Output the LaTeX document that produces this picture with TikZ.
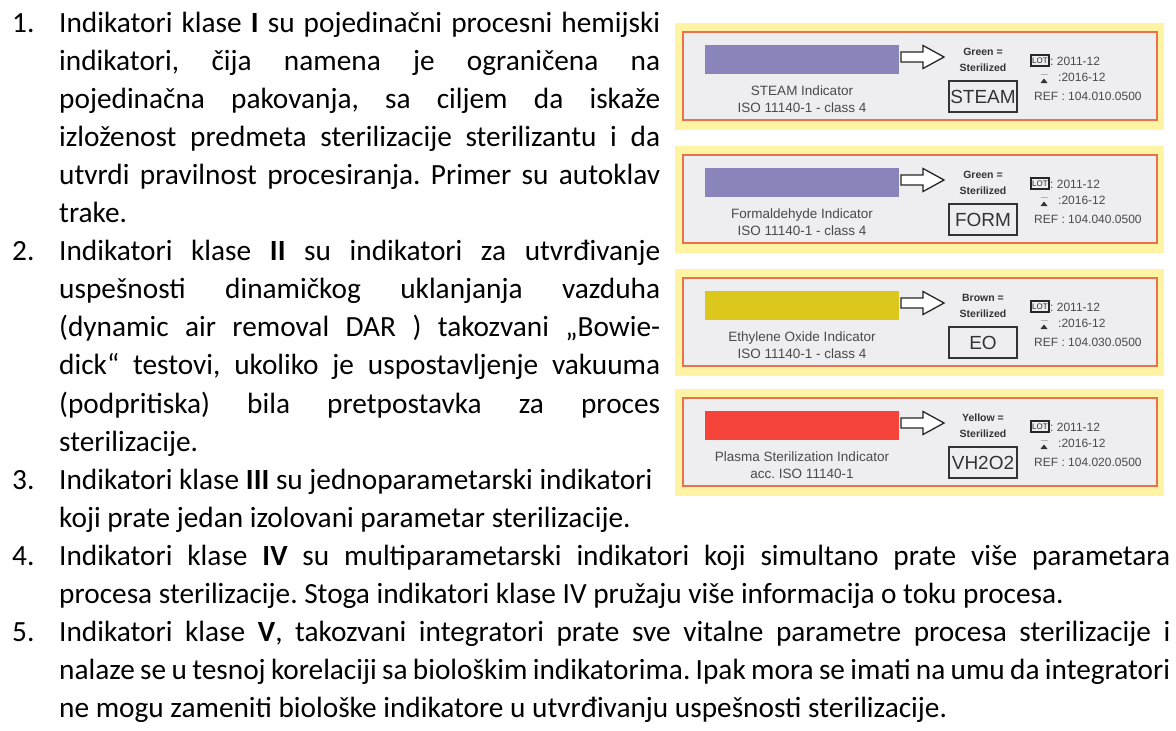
\documentclass[tikz,border=0pt]{standalone}
\usepackage{fontspec}
\setmainfont{Carlito}
\newfontfamily\arialf{Liberation Sans}
\frenchspacing
\definecolor{panelred}{HTML}{E9714C}
\definecolor{panelyel}{HTML}{FFF4A3}
\definecolor{panelgray}{HTML}{EEEEF1}
\definecolor{barpurple}{HTML}{8985BB}
\definecolor{baryellow}{HTML}{DCC81C}
\definecolor{barred}{HTML}{F6443A}
\definecolor{labgray}{HTML}{4A4A4A}
\newcommand\jlineA[1]{\makebox[601pt][s]{#1}}
\newcommand\jlineB[1]{\makebox[1111pt][s]{#1}}
\begin{document}
\begin{tikzpicture}[x=1pt,y=-1pt,
  num/.style={anchor=base west,inner sep=0pt,font=\frenchspacing\fontsize{29.3}{38}\selectfont},
  txt/.style={anchor=base west,inner sep=0pt,font=\frenchspacing\fontsize{29.3}{38}\selectfont},
  lab/.style={inner sep=0pt,text=labgray,font=\arialf\fontsize{13.5}{14}\selectfont},
  stz/.style={inner sep=0pt,text=labgray!70!black,font=\arialf\bfseries\fontsize{10.5}{11}\selectfont},
  sml/.style={inner sep=0pt,anchor=west,text=labgray,font=\arialf\fontsize{12}{13}\selectfont},
  bigbox/.style={draw=black!80,line width=1.3pt,minimum width=68pt,minimum height=31pt,inner sep=0pt,text=black!80,font=\arialf\fontsize{19}{20}\selectfont},
  lotbox/.style={draw=black!85,line width=1.1pt,minimum width=18pt,minimum height=11pt,inner sep=0pt,text=black!85,font=\arialf\fontsize{8}{8}\selectfont}
]
\useasboundingbox (0,0) rectangle (1176,731);
\fill[white] (0,0) rectangle (1176,731);

% ---------- left text ----------
\node[num] (n1) at (12,32) {1.};
\node[txt] (t1a) at (59,32) {\jlineA{Indikatori klase \textbf{I} su pojedinačni procesni hemijski}};
\node[txt] (t1b) at (59,70.1) {\jlineA{indikatori, čija namena je ograničena na}};
\node[txt] (t1c) at (59,108.2) {\jlineA{pojedinačna pakovanja, sa ciljem da iskaže}};
\node[txt] (t1d) at (59,146.3) {\jlineA{izloženost predmeta sterilizacije sterilizantu i da}};
\node[txt] (t1e) at (59,184.4) {\jlineA{utvrdi pravilnost procesiranja. Primer su autoklav}};
\node[txt] (t1f) at (59,222.5) {trake.};

\node[num] (n2) at (12,260.6) {2.};
\node[txt] (t2a) at (59,260.6) {\jlineA{Indikatori klase \textbf{II} su indikatori za utvrđivanje}};
\node[txt] (t2b) at (59,298.7) {\jlineA{uspešnosti dinamičkog uklanjanja vazduha}};
\node[txt] (t2c) at (59,336.8) {\jlineA{(dynamic air removal DAR ) takozvani „Bowie-}};
\node[txt] (t2d) at (59,374.9) {\jlineA{dick“ testovi, ukoliko je uspostavljenje vakuuma}};
\node[txt] (t2e) at (59,413.0) {\jlineA{(podpritiska) bila pretpostavka za proces}};
\node[txt] (t2f) at (59,451.1) {sterilizacije.};

\node[num] (n3) at (12,489.2) {3.};
\node[txt] (t3a) at (59,489.2) {Indikatori klase \textbf{III} su jednoparametarski indikatori};
\node[txt] (t3b) at (59,527.3) {koji prate jedan izolovani parametar sterilizacije.};

\node[num] (n4) at (12,565.4) {4.};
\node[txt] (t4a) at (59,565.4) {\jlineB{Indikatori klase \textbf{IV} su multiparametarski indikatori koji simultano prate više parametara}};
\node[txt] (t4b) at (59,603.5) {procesa sterilizacije. Stoga indikatori klase IV pružaju više informacija o toku procesa.};

\node[num] (n5) at (12,641.6) {5.};
\node[txt] (t5a) at (59,641.6) {\jlineB{Indikatori klase \textbf{V}, takozvani integratori prate sve vitalne parametre procesa sterilizacije i}};
\node[txt] (t5b) at (59,679.7) {\jlineB{nalaze se u tesnoj korelaciji sa biološkim indikatorima. Ipak mora se imati na umu da integratori}};
\node[txt] (t5c) at (59,717.8) {ne mogu zameniti biološke indikatore u utvrđivanju uspešnosti sterilizacije.};

% ---------- indicator panels ----------
\foreach \i/\ty/\bc/\clr/\bx/\labA/\labB/\rf in {
  1/32/barpurple/Green/STEAM/STEAM Indicator/ISO 11140-1 - class 4/010,
  2/155/barpurple/Green/FORM/Formaldehyde Indicator/ISO 11140-1 - class 4/040,
  3/278/baryellow/Brown/EO/Ethylene Oxide Indicator/ISO 11140-1 - class 4/030,
  4/398/barred/Yellow/VH2O2/Plasma Sterilization Indicator/acc. ISO 11140-1/020}{
  \fill[panelyel] (675,{\ty-9}) rectangle (1164,{\ty+98});
  \draw[panelred,line width=2pt,fill=panelgray] (683,\ty) rectangle (1157,{\ty+88});
  \fill[\bc] (705,{\ty+13}) rectangle (899,{\ty+42});
  \node[lab,anchor=base] (la\i) at (802,{\ty+63}) {\labA};
  \node[lab,anchor=base] (lb\i) at (802,{\ty+80}) {\labB};
  \draw[line width=1.3pt,black!85,fill=white] (901,{\ty+20}) -- (923,{\ty+20}) -- (923,{\ty+13.5})
     -- (944,{\ty+25}) -- (923,{\ty+36.5}) -- (923,{\ty+30}) -- (901,{\ty+30}) -- cycle;
  \node[stz] (c\i) at (983,{\ty+20}) {\clr\ =};
  \node[stz] (s\i) at (983,{\ty+36}) {Sterilized};
  \node[bigbox] (bx\i) at (983,{\ty+64.5}) {\bx};
  \node[lotbox] (lot\i) at (1040,{\ty+28.5}) {LOT};
  \node[sml] (d\i) at (1050,{\ty+29}) {: 2011-12};
  \node[sml] (e\i) at (1058,{\ty+45}) {:2016-12};
  \fill[black!80] (1040.5,{\ty+51}) -- (1047.5,{\ty+51}) -- (1044,{\ty+46.5}) -- cycle;
  \draw[black!30,line width=0.6pt] (1040.5,{\ty+42}) -- (1047.5,{\ty+42});
  \node[sml] (r\i) at (1034,{\ty+64}) {REF : 104.\rf.0500};
}
\end{tikzpicture}
\end{document}
